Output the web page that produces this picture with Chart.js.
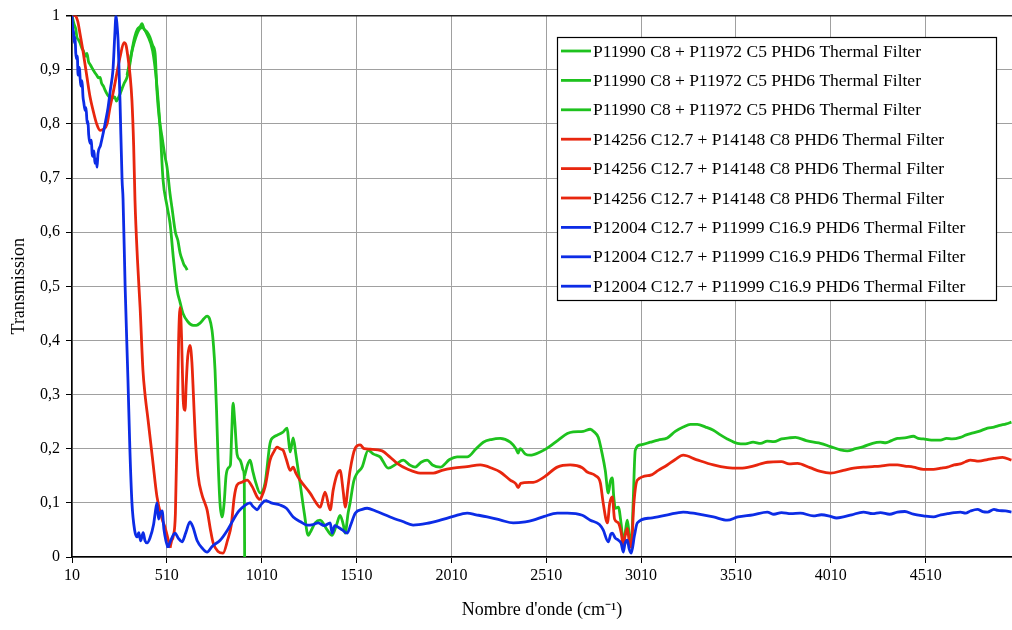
<!DOCTYPE html>
<html>
<head>
<meta charset="utf-8">
<title>Transmission</title>
<script src="https://cdn.jsdelivr.net/npm/chart.js@4/dist/chart.umd.min.js"></script>
<style>
  body { margin: 0; background: #fff; }
  canvas { display: block; }
</style>
</head>
<body>
<canvas id="dvCanvas" width="1012" height="630"></canvas>
<script>
// wavenumber (cm-1) / transmission pairs
var greenName = "P11990 C8 + P11972 C5 PHD6 Thermal Filter";
var redName = "P14256 C12.7 + P14148 C8 PHD6 Thermal Filter";
var blueName = "P12004 C12.7 + P11999 C16.9 PHD6 Thermal Filter";

var greenAWave = [10, 20, 30, 36, 45, 52, 62, 70, 80, 89, 97, 105, 113, 121, 130, 140, 150, 158, 166, 175, 185, 195, 205, 215, 225, 235, 244, 253, 263, 274, 285, 300, 315, 326, 340, 355, 370, 379, 390, 405, 421, 435, 448, 458, 470, 485, 500, 511, 527, 537, 555, 568, 580, 590, 600, 610, 617];
var greenAVal = [1.0, 0.985, 0.975, 0.96, 0.955, 0.95, 0.94, 0.935, 0.925, 0.93, 0.915, 0.91, 0.905, 0.9, 0.895, 0.89, 0.885, 0.886, 0.875, 0.87, 0.862, 0.855, 0.85, 0.845, 0.848, 0.85, 0.842, 0.847, 0.855, 0.865, 0.875, 0.886, 0.91, 0.935, 0.96, 0.975, 0.98, 0.985, 0.975, 0.97, 0.96, 0.945, 0.93, 0.86, 0.81, 0.775, 0.74, 0.72, 0.67, 0.645, 0.6, 0.585, 0.561, 0.55, 0.54, 0.535, 0.53];

var greenBWave = [300, 330, 360, 380, 410, 435, 455, 475, 490, 510, 527, 545, 564, 580, 595, 620, 648, 665, 685, 705, 722, 735, 748, 756, 764, 772, 780, 790, 801, 812, 822, 835, 845, 852, 859, 868, 880, 896, 905, 912, 918, 920];
var greenBVal = [0.89, 0.94, 0.972, 0.978, 0.962, 0.935, 0.88, 0.79, 0.696, 0.65, 0.616, 0.55, 0.493, 0.47, 0.45, 0.435, 0.428, 0.428, 0.432, 0.44, 0.445, 0.44, 0.419, 0.39, 0.345, 0.27, 0.18, 0.1, 0.074, 0.1, 0.15, 0.165, 0.17, 0.23, 0.284, 0.25, 0.19, 0.179, 0.17, 0.16, 0.15, 0.0];

var greenCWave = [920, 935, 949, 962, 975, 1002, 1028, 1054, 1075, 1091, 1120, 1144, 1152, 1160, 1176, 1190, 1212, 1235, 1255, 1265, 1292, 1318, 1355, 1381, 1405, 1423, 1440, 1450, 1465, 1476, 1495, 1513, 1539, 1571, 1600, 1634, 1677, 1720, 1756, 1790, 1819, 1850, 1882, 1910, 1951, 2000, 2040, 2093, 2140, 2178, 2220, 2267, 2320, 2350, 2362, 2372, 2400, 2425, 2478, 2515, 2573, 2621, 2652, 2705, 2742, 2760, 2784, 2805, 2821, 2837, 2848, 2858, 2866, 2874, 2890, 2905, 2916, 2928, 2937, 2948, 2958, 2968, 2979, 3006, 3058, 3100, 3148, 3190, 3232, 3270, 3306, 3350, 3391, 3430, 3464, 3517, 3560, 3600, 3640, 3675, 3710, 3750, 3790, 3823, 3880, 3920, 3955, 4008, 4060, 4097, 4140, 4182, 4230, 4271, 4300, 4330, 4361, 4400, 4445, 4470, 4498, 4540, 4588, 4620, 4650, 4693, 4720, 4746, 4790, 4836, 4870, 4900, 4935, 4962];
var greenCVal = [0.15, 0.17, 0.179, 0.16, 0.142, 0.118, 0.137, 0.21, 0.222, 0.225, 0.23, 0.238, 0.215, 0.194, 0.22, 0.19, 0.137, 0.08, 0.04, 0.045, 0.063, 0.068, 0.05, 0.04, 0.06, 0.077, 0.06, 0.044, 0.08, 0.1, 0.14, 0.155, 0.166, 0.197, 0.19, 0.185, 0.164, 0.172, 0.179, 0.17, 0.166, 0.175, 0.179, 0.17, 0.166, 0.18, 0.185, 0.185, 0.2, 0.212, 0.217, 0.219, 0.212, 0.2, 0.192, 0.2, 0.19, 0.188, 0.194, 0.201, 0.216, 0.228, 0.231, 0.232, 0.236, 0.232, 0.221, 0.19, 0.16, 0.118, 0.14, 0.146, 0.11, 0.09, 0.092, 0.06, 0.026, 0.05, 0.068, 0.04, 0.018, 0.1, 0.197, 0.207, 0.212, 0.216, 0.22, 0.232, 0.24, 0.245, 0.245, 0.24, 0.234, 0.225, 0.218, 0.21, 0.209, 0.212, 0.21, 0.214, 0.213, 0.218, 0.22, 0.221, 0.215, 0.212, 0.21, 0.204, 0.198, 0.196, 0.2, 0.204, 0.21, 0.212, 0.211, 0.215, 0.219, 0.22, 0.223, 0.219, 0.218, 0.216, 0.216, 0.219, 0.218, 0.221, 0.225, 0.228, 0.232, 0.238, 0.24, 0.243, 0.246, 0.249];

var redAWave = [10, 26, 40, 52, 70, 89, 105, 121, 140, 158, 175, 195, 210, 226, 250, 263, 284, 295, 305, 316, 326, 335, 342, 355, 369, 384, 395, 411, 435, 458, 485, 500, 515, 527];
var redAVal = [1.0, 1.0, 0.99, 0.967, 0.93, 0.886, 0.85, 0.825, 0.8, 0.788, 0.79, 0.8, 0.83, 0.856, 0.9, 0.923, 0.95, 0.945, 0.923, 0.89, 0.843, 0.76, 0.659, 0.55, 0.461, 0.345, 0.3, 0.253, 0.18, 0.111, 0.07, 0.055, 0.035, 0.017];

var redBWave = [527, 535, 543, 555, 565, 572, 580, 588, 595, 600, 606, 612, 620, 632, 642, 650, 660, 675, 696, 710, 722, 740, 754, 780, 806, 830, 850, 865, 880, 905, 933, 960, 986, 1002];
var redBVal = [0.017, 0.03, 0.037, 0.08, 0.25, 0.4, 0.461, 0.4, 0.3, 0.275, 0.271, 0.32, 0.37, 0.391, 0.36, 0.3, 0.22, 0.15, 0.114, 0.1, 0.087, 0.05, 0.026, 0.01, 0.007, 0.031, 0.06, 0.11, 0.133, 0.138, 0.142, 0.13, 0.111, 0.105];

var redCWave = [1002, 1028, 1054, 1075, 1091, 1107, 1123, 1140, 1160, 1176, 1190, 1212, 1265, 1297, 1318, 1344, 1371, 1387, 1410, 1423, 1440, 1450, 1465, 1476, 1503, 1529, 1550, 1582, 1645, 1685, 1724, 1780, 1845, 1914, 1960, 2019, 2093, 2162, 2230, 2267, 2320, 2350, 2362, 2375, 2441, 2500, 2568, 2636, 2700, 2726, 2770, 2795, 2810, 2832, 2845, 2858, 2870, 2890, 2905, 2916, 2926, 2937, 2947, 2958, 2972, 2990, 3058, 3100, 3148, 3190, 3232, 3300, 3391, 3464, 3533, 3600, 3640, 3675, 3750, 3790, 3834, 3900, 3955, 4008, 4076, 4130, 4182, 4230, 4271, 4320, 4361, 4400, 4445, 4498, 4551, 4590, 4625, 4660, 4693, 4720, 4746, 4790, 4836, 4870, 4915, 4962];
var redCVal = [0.105, 0.13, 0.179, 0.195, 0.203, 0.2, 0.197, 0.18, 0.16, 0.166, 0.155, 0.142, 0.118, 0.1, 0.092, 0.12, 0.087, 0.124, 0.155, 0.16, 0.12, 0.092, 0.13, 0.16, 0.201, 0.207, 0.2, 0.199, 0.196, 0.185, 0.173, 0.162, 0.155, 0.155, 0.16, 0.164, 0.167, 0.17, 0.163, 0.157, 0.142, 0.135, 0.128, 0.136, 0.138, 0.148, 0.166, 0.17, 0.165, 0.157, 0.15, 0.137, 0.1, 0.063, 0.1, 0.111, 0.07, 0.063, 0.045, 0.022, 0.04, 0.053, 0.03, 0.018, 0.1, 0.142, 0.151, 0.16, 0.17, 0.18, 0.188, 0.18, 0.17, 0.165, 0.164, 0.168, 0.172, 0.175, 0.176, 0.172, 0.173, 0.165, 0.158, 0.155, 0.16, 0.164, 0.166, 0.167, 0.168, 0.17, 0.17, 0.168, 0.166, 0.162, 0.162, 0.164, 0.166, 0.17, 0.172, 0.176, 0.179, 0.177, 0.18, 0.182, 0.184, 0.179];

var blueAWave = [10, 14, 18, 22, 26, 30, 34, 38, 42, 46, 50, 56, 63, 68, 72, 79, 84, 90, 94, 98, 105, 112, 116, 120, 126, 131, 138, 142, 147, 160, 174, 187, 200, 213, 226, 235, 242, 248, 253, 258, 263, 274, 279, 290, 305, 315, 326, 340, 353, 362, 372, 385, 395, 406, 421, 440, 448, 458, 466, 474, 485, 495, 505, 516];
var blueAVal = [1.0, 0.975, 0.97, 0.95, 0.96, 0.93, 0.92, 0.925, 0.89, 0.905, 0.9, 0.87, 0.88, 0.85, 0.84, 0.825, 0.83, 0.8, 0.805, 0.78, 0.764, 0.77, 0.745, 0.74, 0.75, 0.727, 0.735, 0.72, 0.745, 0.76, 0.782, 0.805, 0.83, 0.865, 0.9, 0.96, 1.0, 0.98, 0.954, 0.9, 0.843, 0.696, 0.662, 0.5, 0.327, 0.2, 0.1, 0.05, 0.037, 0.045, 0.03, 0.045, 0.03, 0.026, 0.035, 0.06, 0.08, 0.1, 0.07, 0.08, 0.085, 0.05, 0.03, 0.017];

var blueBWave = [516, 530, 553, 570, 590, 610, 632, 648, 670, 700, 722, 750, 791, 830, 859, 890, 920, 949, 960, 975, 986, 1002, 1028];
var blueBVal = [0.017, 0.03, 0.044, 0.035, 0.028, 0.045, 0.065, 0.055, 0.03, 0.015, 0.009, 0.02, 0.031, 0.05, 0.068, 0.085, 0.095, 0.1, 0.095, 0.09, 0.087, 0.095, 0.105];

var blueCWave = [1028, 1060, 1107, 1140, 1176, 1215, 1249, 1280, 1307, 1340, 1371, 1381, 1395, 1413, 1435, 1460, 1480, 1503, 1540, 1566, 1610, 1687, 1750, 1808, 1880, 1951, 2020, 2093, 2140, 2199, 2270, 2336, 2400, 2441, 2500, 2568, 2621, 2700, 2742, 2790, 2810, 2837, 2850, 2858, 2874, 2890, 2905, 2916, 2925, 2937, 2947, 2958, 2975, 2990, 3058, 3150, 3232, 3300, 3391, 3464, 3520, 3600, 3675, 3710, 3750, 3800, 3849, 3918, 3960, 4008, 4040, 4076, 4120, 4182, 4230, 4271, 4320, 4361, 4400, 4445, 4498, 4551, 4590, 4625, 4660, 4693, 4720, 4746, 4783, 4810, 4836, 4870, 4890, 4930, 4962];
var blueCVal = [0.105, 0.1, 0.096, 0.09, 0.074, 0.065, 0.059, 0.06, 0.063, 0.058, 0.063, 0.044, 0.058, 0.055, 0.05, 0.044, 0.06, 0.081, 0.088, 0.09, 0.085, 0.074, 0.066, 0.059, 0.062, 0.068, 0.075, 0.081, 0.078, 0.074, 0.068, 0.063, 0.065, 0.068, 0.075, 0.081, 0.081, 0.077, 0.068, 0.06, 0.05, 0.028, 0.042, 0.044, 0.035, 0.031, 0.025, 0.009, 0.025, 0.031, 0.015, 0.007, 0.04, 0.063, 0.072, 0.078, 0.083, 0.08, 0.074, 0.068, 0.074, 0.078, 0.083, 0.079, 0.082, 0.08, 0.081, 0.076, 0.078, 0.075, 0.072, 0.074, 0.078, 0.083, 0.08, 0.082, 0.079, 0.083, 0.084, 0.079, 0.076, 0.074, 0.078, 0.08, 0.082, 0.083, 0.081, 0.085, 0.088, 0.084, 0.083, 0.088, 0.086, 0.085, 0.083];

var xTicks = [10, 510, 1010, 1510, 2010, 2510, 3010, 3510, 4010, 4510];
var yTicks = [0, 0.1, 0.2, 0.3, 0.4, 0.5, 0.6, 0.7, 0.8, 0.9, 1];

var GREEN = '#1ec21e';
var RED = '#e8260e';
var BLUE = '#0c2ce6';
var SERIF = '"Liberation Serif", "Times New Roman", serif';

function pairs(w, v) {
  var out = [];
  for (var i = 0; i < w.length; i++) out.push({ x: w[i], y: v[i] });
  return out;
}

function series(label, w, v, color, order) {
  return {
    label: label,
    data: pairs(w, v),
    borderColor: color,
    backgroundColor: color,
    borderWidth: 2.8,
    pointRadius: 0,
    fill: false,
    cubicInterpolationMode: 'monotone',
    order: order
  };
}

var datasets = [
  series(greenName, greenAWave, greenAVal, GREEN, 3),
  series(greenName, greenBWave, greenBVal, GREEN, 3),
  series(greenName, greenCWave, greenCVal, GREEN, 3),
  series(redName, redAWave, redAVal, RED, 2),
  series(redName, redBWave, redBVal, RED, 2),
  series(redName, redCWave, redCVal, RED, 2),
  series(blueName, blueAWave, blueAVal, BLUE, 1),
  series(blueName, blueBWave, blueBVal, BLUE, 1),
  series(blueName, blueCWave, blueCVal, BLUE, 1)
];

// legend box drawn inside the plot, like the original
var boxLegend = {
  id: 'boxLegend',
  afterDraw: function(chart) {
    var ctx = chart.ctx;
    var x0 = 557, y0 = 37, w = 439, h = 263;
    ctx.save();
    ctx.fillStyle = '#fff';
    ctx.fillRect(x0, y0, w, h);
    ctx.strokeStyle = '#000';
    ctx.lineWidth = 1.2;
    ctx.strokeRect(x0 + 0.5, y0 + 0.5, w, h);
    ctx.font = '17.5px ' + SERIF;
    ctx.textBaseline = 'middle';
    ctx.fillStyle = '#000';
    chart.data.datasets.forEach(function(ds, i) {
      var y = 51 + i * 29.4;
      ctx.strokeStyle = ds.borderColor;
      ctx.lineWidth = 2.8;
      ctx.beginPath();
      ctx.moveTo(561, y);
      ctx.lineTo(591, y);
      ctx.stroke();
      ctx.fillText(ds.label, 593, y + 1);
    });
    ctx.restore();
  }
};

var ctx = document.getElementById('dvCanvas').getContext('2d');
var myChart = new Chart(ctx, {
  type: 'line',
  data: { datasets: datasets },
  plugins: [boxLegend],
  options: {
    responsive: false,
    animation: false,
    layout: { padding: { top: 15, right: 0, left: 0, bottom: 0 } },
    plugins: {
      legend: { display: false },
      tooltip: { enabled: false }
    },
    scales: {
      x: {
        type: 'linear',
        min: 10,
        max: 4965,
        afterBuildTicks: function(scale) {
          scale.ticks = xTicks.map(function(v) { return { value: v }; });
        },
        afterFit: function(scale) { scale.height = 73; },
        grid: { color: '#a0a0a0', lineWidth: 1, tickColor: '#000', tickLength: 6 },
        border: { color: '#000', width: 1.5 },
        ticks: {
          color: '#000',
          font: { family: SERIF, size: 16 },
          maxRotation: 0,
          padding: 3,
          callback: function(v) { return String(v); }
        },
        title: {
          display: true,
          text: "Nombre d'onde (cm\u207B\u00B9)",
          color: '#000',
          font: { family: SERIF, size: 18 },
          padding: { top: 4, bottom: 9 }
        }
      },
      y: {
        min: 0,
        max: 1,
        afterBuildTicks: function(scale) {
          scale.ticks = yTicks.map(function(v) { return { value: v }; });
        },
        afterFit: function(scale) { scale.width = 72; },
        grid: {
          color: function(c) { return c.tick && c.tick.value === 1 ? '#222' : '#a0a0a0'; },
          lineWidth: function(c) { return c.tick && c.tick.value === 1 ? 1.5 : 1; },
          tickColor: '#000',
          tickLength: 6
        },
        border: { color: '#000', width: 1.5 },
        ticks: {
          color: '#000',
          font: { family: SERIF, size: 16 },
          padding: 6,
          callback: function(v) {
            if (v === 0) return '0';
            if (v === 1) return '1';
            return v.toFixed(1).replace('.', ',');
          }
        },
        title: {
          display: true,
          text: 'Transmission',
          color: '#000',
          font: { family: SERIF, size: 18 },
          padding: { top: 8, bottom: 0 }
        }
      }
    }
  }
});
</script>
</body>
</html>
